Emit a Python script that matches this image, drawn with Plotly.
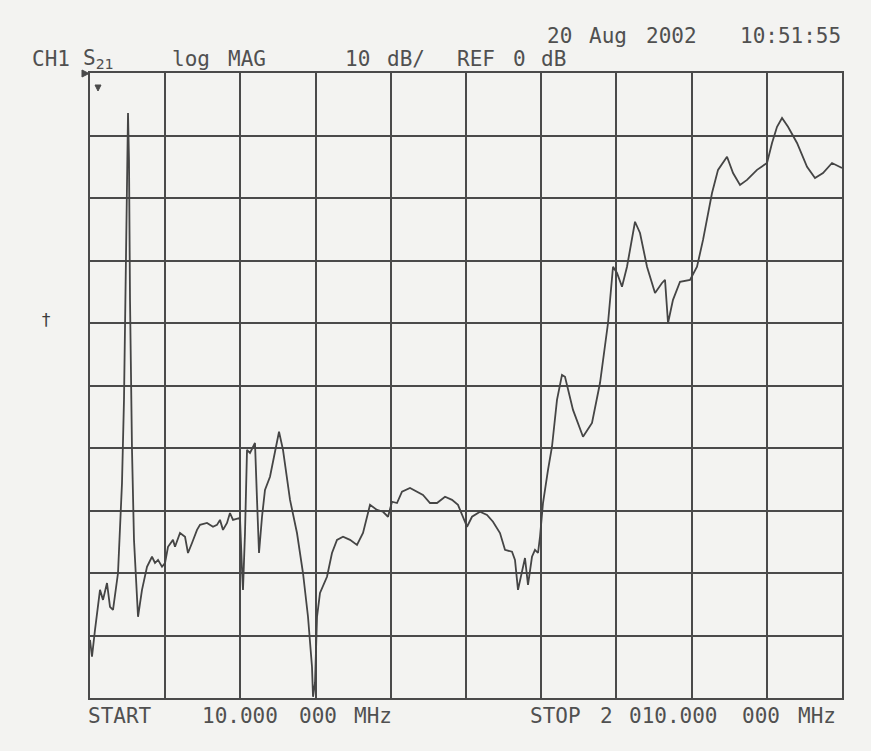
import plotly.graph_objects as go

# Network analyzer sweep: CH1 S21, log magnitude, 10 dB/div, reference 0 dB
freq_mhz = [
    10.0, 15.3, 23.3, 36.6, 44.6, 55.2, 63.2, 71.2, 84.5, 95.1,
    100.4, 105.7, 108.4, 111.1, 113.7, 116.4, 121.7, 127.0, 137.7, 148.3,
    161.6, 174.9, 182.9, 190.9, 201.5, 209.5, 217.5, 230.7, 236.1, 249.4,
    262.7, 270.6, 281.3, 294.6, 302.6, 321.2, 337.1, 347.8, 355.7, 363.7,
    374.4, 382.3, 390.3, 408.9, 414.3, 416.9, 422.2, 427.6, 435.5, 443.5,
    448.8, 454.2, 459.5, 467.5, 475.4, 488.7, 502.0, 512.7, 523.3, 542.0,
    560.5, 576.5, 589.8, 600.4, 603.1, 608.4, 613.8, 621.7, 640.3, 653.6,
    666.9, 682.9, 701.5, 720.1, 736.1, 754.7, 773.3, 789.3, 802.6, 813.2,
    826.5, 839.8, 861.1, 879.7, 895.6, 914.3, 932.9, 954.2, 972.8, 988.7,
    1002.0, 1012.7, 1026.0, 1047.2, 1065.9, 1081.8, 1100.4, 1113.7, 1132.4, 1140.3,
    1148.3, 1158.9, 1166.9, 1174.9, 1185.5, 1193.5, 1201.5, 1206.8, 1214.8, 1228.1,
    1238.7, 1252.0, 1265.3, 1273.3, 1294.6, 1321.2, 1345.1, 1366.4, 1387.7, 1401.0,
    1411.6, 1424.9, 1438.2, 1459.5, 1472.8, 1491.4, 1512.7, 1531.3, 1539.3, 1547.3,
    1560.5, 1579.2, 1605.8, 1624.4, 1640.4, 1664.3, 1680.3, 1704.2, 1720.2, 1738.8,
    1757.4, 1784.0, 1810.6, 1823.9, 1837.2, 1850.5, 1866.4, 1890.4, 1917.0, 1938.2,
    1959.5, 1983.4, 2010.0,
]
s21_db = [
    -90.7, -93.4, -89.1, -82.7, -84.3, -81.6, -85.4, -85.9, -80.0, -65.6,
    -52.3, -28.3, -15.5, -6.4, -13.9, -36.3, -60.3, -74.7, -87.0, -82.7,
    -79.0, -77.4, -78.4, -77.9, -79.0, -78.4, -75.8, -74.7, -75.8, -73.6,
    -74.2, -76.8, -75.2, -73.1, -72.3, -72.0, -72.6, -72.3, -71.5, -73.1,
    -72.0, -70.4, -71.5, -71.2, -79.5, -82.7, -73.6, -60.3, -60.8, -59.8,
    -59.2, -68.3, -76.8, -71.0, -66.7, -64.6, -60.3, -57.4, -60.3, -68.3,
    -73.6, -80.0, -87.0, -95.0, -99.8, -97.6, -87.0, -83.2, -80.6, -76.8,
    -74.7, -74.2, -74.7, -75.5, -73.6, -69.1, -69.9, -70.2, -71.0, -68.6,
    -68.8, -67.0, -66.4, -67.0, -67.5, -68.8, -68.8, -67.8, -68.3, -69.1,
    -71.0, -72.6, -71.0, -70.2, -70.7, -71.8, -73.6, -76.3, -76.6, -77.9,
    -82.7, -80.0, -77.6, -81.9, -77.4, -76.3, -76.8, -74.2, -68.8, -63.5,
    -59.8, -52.3, -48.3, -48.6, -53.9, -58.2, -56.0, -49.6, -40.0, -31.0,
    -32.0, -34.2, -31.0, -23.8, -25.6, -31.0, -35.2, -33.6, -33.1, -40.0,
    -36.3, -33.4, -33.1, -31.0, -26.7, -19.2, -15.5, -13.4, -16.0, -17.9,
    -17.1, -15.5, -14.4, -11.2, -8.6, -7.2, -8.6, -11.2, -15.0, -16.8,
    -16.0, -14.4, -15.2,
]

start_mhz = 10.0
stop_mhz = 2010.0
div_mhz = 200.0
ref_db = 0.0
scale_db = 10.0

ink = "#4a4a4a"
text_ink = "#505050"
paper = "#f3f3f1"
mono = "DejaVu Sans Mono, Liberation Mono, monospace"

fig = go.Figure()
fig.add_trace(go.Scatter(
    x=freq_mhz, y=s21_db, mode="lines",
    line=dict(color="#454545", width=1.8),
    hoverinfo="skip", showlegend=False,
))

fig.update_xaxes(
    range=[start_mhz, stop_mhz], tick0=start_mhz, dtick=div_mhz,
    showgrid=True, gridcolor=ink, gridwidth=2,
    showline=True, linecolor=ink, linewidth=2, mirror=True,
    showticklabels=False, ticks="", zeroline=False,
)
fig.update_yaxes(
    range=[ref_db - 10 * scale_db, ref_db], tick0=ref_db, dtick=scale_db,
    showgrid=True, gridcolor=ink, gridwidth=2,
    showline=True, linecolor=ink, linewidth=2, mirror=True,
    showticklabels=False, ticks="", zeroline=False,
)

# page-pixel to paper-coordinate conversion for the screen furniture
grid_left, grid_bottom, grid_w, grid_h = 90.0, 698.0, 752.0, 625.0

def to_paper(xp, yp):
    return (xp - grid_left) / grid_w, (grid_bottom - yp) / grid_h

def label(text, xp, yp, anchor="left", size=21, yanchor="bottom", color=text_ink):
    x, y = to_paper(xp, yp)
    fig.add_annotation(
        text=text, x=x, y=y, xref="paper", yref="paper",
        xanchor=anchor, yanchor=yanchor, showarrow=False,
        font=dict(family=mono, size=size, color=color),
    )

def glyph(points):
    coords = [to_paper(xp, yp) for xp, yp in points]
    path = "M " + " L ".join(f"{x:.5f},{y:.5f}" for x, y in coords) + " Z"
    fig.add_shape(type="path", path=path, xref="paper", yref="paper",
                  fillcolor=ink, line=dict(color=ink, width=1), layer="above")

# date / time line
label("20", 545, 50)
label("Aug", 587, 50)
label("2002", 644, 50)
label("10:51:55", 843, 50, anchor="right")

# channel / format line
label("CH1", 30, 73)
label("S<sub>21</sub>", 81, 74)
label("log", 170, 73)
label("MAG", 226, 73)
label("10", 343, 73)
label("dB/", 385, 73)
label("REF", 455, 73)
label("0", 511, 73)
label("dB", 539, 73)

# sweep limits
label("START", 86, 702, yanchor="top")
label("10.000", 200, 702, yanchor="top")
label("000", 297, 702, yanchor="top")
label("MHz", 352, 702, yanchor="top")
label("STOP", 528, 702, yanchor="top")
label("2", 598, 702, yanchor="top")
label("010.000", 627, 702, yanchor="top")
label("000", 740, 702, yanchor="top")
label("MHz", 838, 702, anchor="right", yanchor="top")

# reference position marker
label("†", 46, 320, anchor="center", size=17, yanchor="middle", color="#3c3c3c")

# reference-line pointer and marker glyph
glyph([(82, 70), (89, 73.5), (82, 77)])
glyph([(95, 85), (101, 85), (98, 91)])

fig.update_layout(
    width=871, height=751,
    margin=dict(l=90, r=29, t=73, b=53),
    paper_bgcolor=paper, plot_bgcolor=paper,
    showlegend=False,
)

fig.write_html("out.html")
